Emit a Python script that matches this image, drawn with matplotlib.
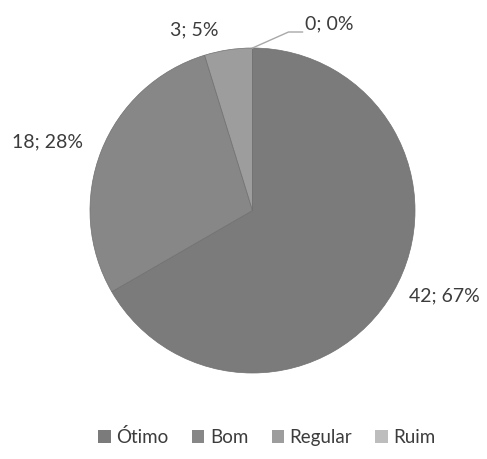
import numpy as np
import matplotlib.pyplot as plt

# Avaliação: contagem por categoria
categorias = ['Ótimo', 'Bom', 'Regular', 'Ruim']
valores = [42, 18, 3, 0]
cores = ['#7b7b7b', '#878787', '#9d9d9d', '#bdbdbd']

# distância radial e ajuste angular (graus) de cada rótulo
label_dist = [1.29, 1.33, 1.17, 1.245]
label_nudge = [6, 3, 9.4, -22.4]

plt.rcParams['font.family'] = ['Lato', 'DejaVu Sans']


def percentuais(vals):
    # arredondamento pelo maior resto, somando 100
    exatos = np.array(vals, dtype=float) * 100 / sum(vals)
    base = np.floor(exatos).astype(int)
    falta = 100 - base.sum()
    ordem = np.argsort(-(exatos - base))
    base[ordem[:falta]] += 1
    return base


W, H = 487, 459
fig = plt.figure(figsize=(W / 100, H / 100), dpi=100)
ax = fig.add_axes([0, 0, 1, 1])

cx, cy, r = 252.5, H - 210.5, 162.5
wedges, _ = ax.pie(valores, colors=cores, startangle=90, counterclock=False,
                   center=(cx, cy), radius=r, frame=True,
                   wedgeprops=dict(linewidth=0.5, edgecolor='#707070'))
ax.set_xlim(0, W)
ax.set_ylim(0, H)
ax.set_aspect('equal')
ax.axis('off')

pcts = percentuais(valores)
txt_color = '#3c3c3c'
for w, v, p, d, nd in zip(wedges, valores, pcts, label_dist, label_nudge):
    ang = np.deg2rad((w.theta1 + w.theta2) / 2 + nd)
    x = cx + d * r * np.cos(ang)
    y = cy + d * r * np.sin(ang)
    ax.text(x, y, f'{v}; {p}%', ha='center', va='center',
            fontsize=14, color=txt_color)
    if v == 0:
        # linha guia para a fatia vazia
        a0 = np.deg2rad(w.theta1)
        x0, y0 = cx + r * np.cos(a0), cy + r * np.sin(a0)
        ax.plot([x0, x0 + 36, x0 + 50], [y0, y0 + 16, y0 + 16],
                color='#a8a8a8', lw=1)

leg = ax.legend(wedges, categorias, loc='center', bbox_to_anchor=(267 / W, 1 - 437 / H),
                ncol=4, frameon=False, fontsize=13.5, handlelength=0.65,
                handleheight=0.65, handletextpad=0.3, columnspacing=1.25)
for t in leg.get_texts():
    t.set_color(txt_color)
for h in leg.legend_handles:
    h.set_linewidth(0)

fig.savefig('out.png', dpi=100)
